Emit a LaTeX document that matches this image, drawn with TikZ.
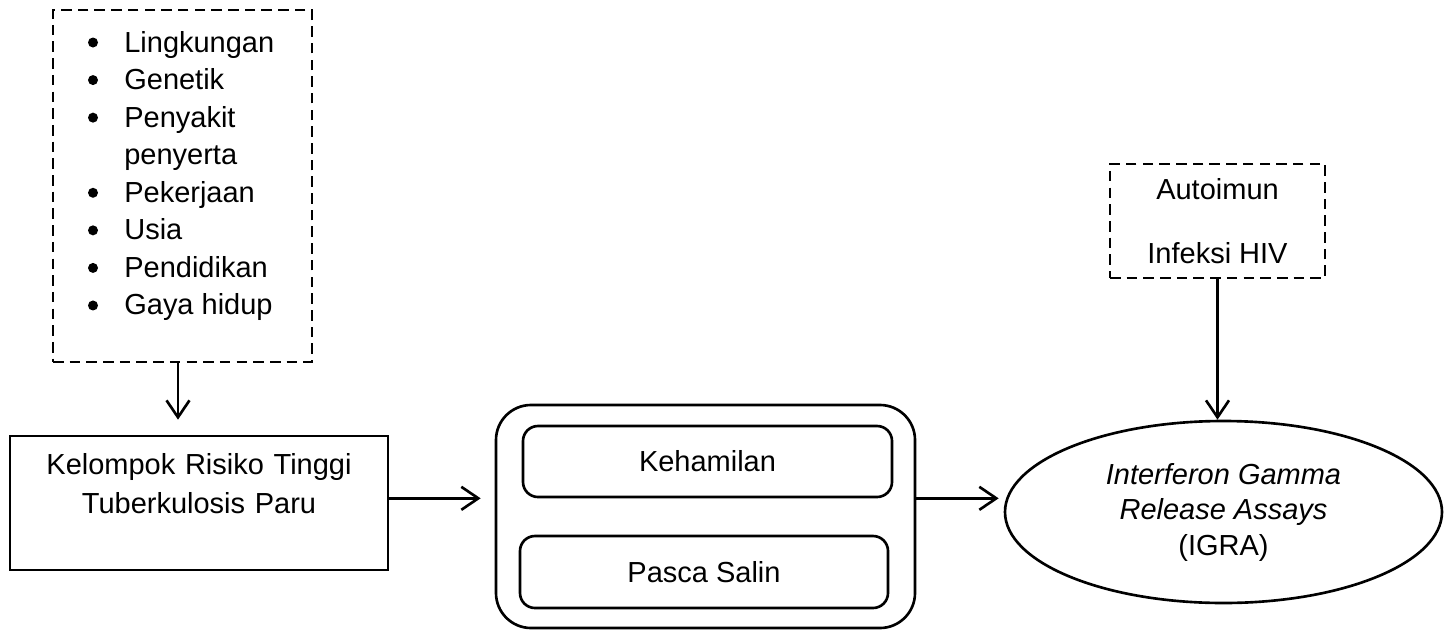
\documentclass[tikz,border=0pt]{standalone}
\usepackage{fontspec}
\setmainfont{Liberation Sans}
\usepackage{tikz}
\usetikzlibrary{shapes.geometric, arrows.meta, positioning}
\tikzset{
  dashbox/.style={draw, dash pattern=on 6pt off 3.5pt, inner sep=0pt},
  plainbox/.style={draw, inner sep=0pt},
  roundbox/.style={plainbox, rounded corners=0.3cm},
  itemtxt/.style={anchor=base west, inner sep=0pt},
  arr/.style={-{Straight Barb[length=3.4mm, width=4.6mm]}},
}

\begin{document}
\begin{tikzpicture}[font=\fontsize{16.5}{21.4}\selectfont, line width=1.5pt]
  \useasboundingbox (0,0) rectangle (29.04,12.6);

  % faktor risiko
  \node[dashbox, minimum width=5.18cm, minimum height=7.04cm] (faktor) at (3.65,8.88) {};
  \foreach \i/\t in {0/Lingkungan, 1/Genetik, 2/Penyakit, 4/Pekerjaan, 5/Usia, 6/Pendidikan, 7/Gaya hidup} {
    \fill (1.86,11.75-0.7514*\i) circle (0.1);
    \node[itemtxt] (item\i) at (2.46,11.56-0.7514*\i) {\t};
  }
  \node[itemtxt] (item3) at (2.46,11.56-0.7514*3) {penyerta};

  \node[plainbox, minimum width=7.56cm, minimum height=2.68cm] (risiko) at (3.98,2.54) {};
  \node[text width=7cm, align=center, inner sep=0pt, anchor=base,
        font=\fontsize{16.5}{22.2}\selectfont] (risikotxt) at (3.98,3.12)
       {Kelompok Risiko Tinggi\\Tuberkulosis Paru};

  % kehamilan / pasca salin
  \node[plainbox, rounded corners=0.7cm, minimum width=8.38cm, minimum height=4.46cm] (fase) at (14.11,2.27) {};
  \node[roundbox, minimum width=7.38cm, minimum height=1.42cm] (hamil) at (14.15,3.37) {Kehamilan};
  \node[roundbox, minimum width=7.36cm, minimum height=1.44cm] (salin) at (14.08,1.16) {Pasca Salin};

  % IGRA
  \node[plainbox, ellipse, minimum width=8.74cm, minimum height=3.64cm, align=center,
        font=\fontsize{16.5}{20.2}\selectfont] (igra) at (24.47,2.36)
       {\textit{Interferon Gamma}\\\textit{Release Assays}\\(IGRA)};
  \node[dashbox, minimum width=4.3cm, minimum height=2.28cm, align=center] (komorbid) at (24.35,8.18)
       {Autoimun\\[15pt]Infeksi HIV};

  % panah
  \draw[arr, shorten >=0.3cm] ([xshift=-0.09cm]faktor.south) -- ([xshift=-0.09cm]faktor.south |- risiko.north);
  \draw[arr, shorten >=0.28cm] (risiko.east |- hamil.south) -- (fase.west |- hamil.south);
  \draw[arr, shorten >=0.1cm] (fase.east |- hamil.south) -- (igra.west |- hamil.south);
  \draw[arr] (komorbid.south) -- (komorbid.south |- igra.north);
\end{tikzpicture}
\end{document}
